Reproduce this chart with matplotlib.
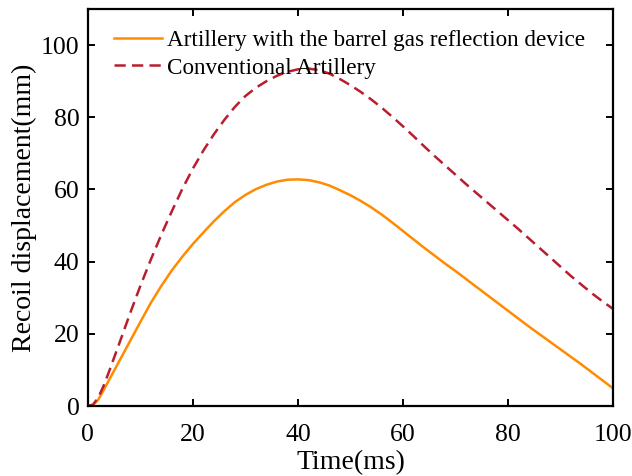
import numpy as np
import matplotlib
matplotlib.use("Agg")
import matplotlib.pyplot as plt

plt.rcParams['font.family'] = ['Liberation Serif', 'DejaVu Serif']
plt.rcParams['mathtext.fontset'] = 'stix'

# time axis (ms)
time_ms = [0, 1, 2, 3, 4, 5, 6, 8, 10, 12, 14, 16, 18, 20, 22, 24, 26, 28, 30,
           32, 34, 36, 38, 40, 42, 44, 46, 48, 50, 52, 54, 56, 58, 60, 62, 64,
           66, 68, 70, 72, 74, 76, 78, 80, 82, 84, 86, 88, 90, 92, 94, 96, 98, 100]

# recoil displacement (mm) with the barrel gas reflection device
disp_reflect = [0, 0.3, 1.8, 4.4, 7.1, 9.8, 12.5, 17.9, 23.3, 28.6, 33.3, 37.6,
                41.4, 44.9, 48.1, 51.2, 54.0, 56.5, 58.5, 60.1, 61.3, 62.2, 62.7,
                62.8, 62.6, 62.0, 61.1, 59.8, 58.4, 56.8, 55.0, 53.0, 50.8, 48.5,
                46.2, 43.9, 41.7, 39.5, 37.4, 35.2, 33.0, 30.8, 28.6, 26.4, 24.2,
                22.0, 19.9, 17.8, 15.7, 13.6, 11.5, 9.3, 7.1, 4.9]

# recoil displacement (mm) of conventional artillery
disp_conv = [0, 0.4, 2.4, 5.6, 9.4, 13.4, 17.4, 25.5, 33.3, 40.6, 47.5, 54.0,
             60.2, 65.8, 70.8, 75.3, 79.3, 82.9, 85.9, 88.2, 90.0, 91.5, 92.6,
             93.3, 93.5, 93.1, 92.1, 90.6, 88.9, 87.0, 84.9, 82.6, 80.1, 77.5,
             74.8, 72.0, 69.3, 66.7, 64.1, 61.5, 59.0, 56.5, 54.0, 51.5, 49.0,
             46.4, 43.8, 41.2, 38.6, 36.0, 33.6, 31.2, 29.0, 26.9]

fig = plt.figure(figsize=(6.32, 4.76), dpi=100)
ax = fig.add_axes([0.139, 0.147, 0.831, 0.834])

ax.plot(time_ms, disp_reflect, color='#FF8C00', lw=1.8,
        label='Artillery with the barrel gas reflection device')
ax.plot(time_ms, disp_conv, color='#B81E2D', lw=1.8, dashes=(4.5, 2.5),
        label='Conventional Artillery')

ax.set_xlim(0, 100)
ax.set_ylim(0, 110)
ax.set_xticks([0, 20, 40, 60, 80, 100])
ax.set_yticks([0, 20, 40, 60, 80, 100])

ax.tick_params(direction='in', length=5, width=1.4, labelsize=18.5,
               top=True, right=True, pad=6)
ax.tick_params(axis='x', pad=13)
for s in ax.spines.values():
    s.set_linewidth(1.6)

ax.set_xlabel('Time(ms)', fontsize=20, labelpad=3)
ax.set_ylabel('Recoil displacement(mm)', fontsize=20, labelpad=3)

ax.legend(loc='upper left', frameon=False, fontsize=16.7, handlelength=2.1,
          handletextpad=0.2, labelspacing=0.25, borderaxespad=0.0,
          bbox_to_anchor=(0.0315, 0.97))

fig.savefig('out.png', dpi=100)
